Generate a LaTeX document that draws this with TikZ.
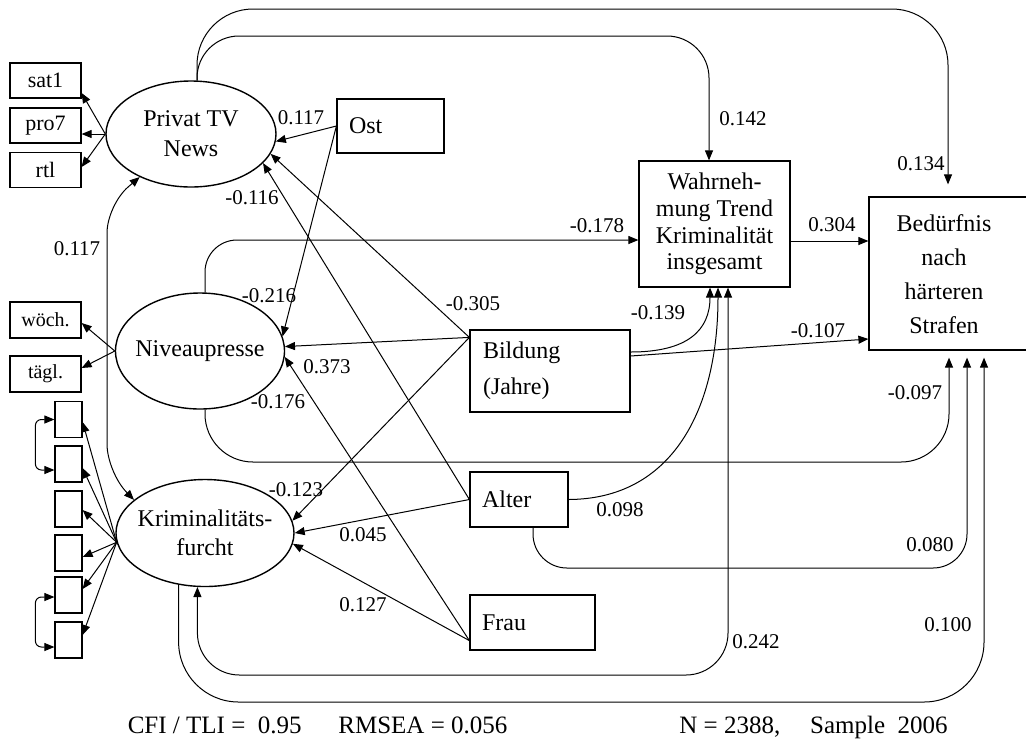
\documentclass[tikz,border=0pt]{standalone}
\usepackage{fontspec}
\setmainfont{Liberation Serif}
\usetikzlibrary{arrows.meta,shapes.geometric}

\begin{document}
\begin{tikzpicture}[x=0.5pt, y=-0.5pt,
    >={Triangle[length=5pt,width=4pt]},
    box/.style={draw, line width=0.6pt, inner sep=0pt, font=\fontsize{12}{15}\selectfont},
    ind/.style={draw, line width=0.6pt, minimum width=35.5pt, minimum height=17.5pt, inner sep=0pt, font=\fontsize{11}{13}\selectfont},
    latent/.style={draw, ellipse, line width=0.7pt, inner xsep=-20pt, inner ysep=0pt, align=center, font=\fontsize{12}{15}\selectfont},
    arr/.style={->, line width=0.5pt},
    dbl/.style={<->, line width=0.5pt},
    coef/.style={inner sep=0pt, font=\fontsize{10.5}{12}\selectfont},
    note/.style={inner sep=0pt, font=\fontsize{12.5}{15}\selectfont}
]
\useasboundingbox (0,0) rectangle (1026,740);

% indicators
\node[ind] (sat1) at (45.5,80.5) {sat1};
\node[ind] (pro7) at (45.5,125.5) {pro7};
\node[ind] (rtl) at (45.5,170) {rtl};
\node[ind, minimum height=18pt, font=\fontsize{10}{12}\selectfont] (woch) at (45.5,320) {wöch.};
\node[ind, minimum height=18pt, font=\fontsize{10}{12}\selectfont] (tagl) at (45.5,374) {tägl.};
\foreach \i/\y in {1/419.5,2/464,3/509,4/553,5/595,6/640}
    \node[ind, minimum width=13.5pt, minimum height=18pt] (k\i) at (68.5,\y) {};

% latent variables
\node[latent, minimum width=85pt, minimum height=53pt] (ptv) at (191,134) {Privat TV\\News};
\node[latent, minimum width=84.5pt, minimum height=58pt] (niv) at (200,351) {Niveaupresse};
\node[latent, minimum width=89pt, minimum height=53.5pt, font=\fontsize{12}{14.5}\selectfont] (krim) at (205,533) {Kriminalitäts-\\furcht};

% observed variables
\node[box, minimum width=53.5pt, minimum height=27pt, text width=41.5pt, inner xsep=6pt, align=left] (ost) at (390.5,126) {Ost};
\node[box, minimum width=80pt, minimum height=41pt, text width=67pt, inner xsep=6.5pt, align=left, font=\fontsize{12}{18}\selectfont] (bild) at (550,371) {Bildung\\(Jahre)};
\node[box, minimum width=49pt, minimum height=27.5pt, text width=37pt, inner xsep=6pt, align=left] (alter) at (519,499.5) {Alter};
\node[box, minimum width=62.5pt, minimum height=27.5pt, text width=50.5pt, inner xsep=6pt, align=left] (frau) at (532.5,622.5) {Frau};
\node[box, minimum width=75.5pt, minimum height=63pt, align=center, font=\fontsize{12}{13.3}\selectfont] (wahr) at (714.5,224) {Wahrneh-\\mung Trend\\Kriminalität\\insgesamt};
\node[box, minimum width=90pt, minimum height=76.5pt] (bed) at (959,273.5) {};
\node[align=center, inner sep=0pt, font=\fontsize{12}{17}\selectfont] (bedtxt) at (944,274) {Bedürfnis\\nach\\härteren\\Strafen};

% measurement model
\draw[arr] (ptv.west) -- ([yshift=-6.25pt]sat1.east);
\draw[arr] (ptv.west) -- ([yshift=-4.25pt]pro7.east);
\draw[arr] (ptv.west) -- ([yshift=1.5pt]rtl.east);
\draw[arr] (niv.west) -- ([yshift=-1.5pt]woch.east);
\draw[arr] (niv.west) -- ([yshift=3pt]tagl.east);
\foreach \i/\s in {1/-1.25,2/-2,3/-0.5,4/-2,5/3,6/2.5}
    \draw[arr] (krim.186) -- ([yshift=\s pt]k\i.east);
\draw[dbl, rounded corners=3pt] (k1.west) -- ++(-19,0) |- ([yshift=-3pt]k2.west);
\draw[dbl, rounded corners=3pt] ([yshift=-1pt]k5.west) -- ++(-19,0) |- ([yshift=-3.5pt]k6.west);

% anchor points
\coordinate (corA) at (107,205);
\coordinate (corB) at (107,472);
\coordinate (top1) at (0,9);
\coordinate (top2) at (0,36);
\coordinate (low1) at (0,462);
\coordinate (low2) at (0,568);
\coordinate (low3) at (0,675);
\coordinate (low4) at (0,702);
\coordinate (ptvtop) at ([xshift=3pt]ptv.north);
\coordinate (nivtop) at ([xshift=2.5pt]niv.north);
\coordinate (nivbot) at ([xshift=2.5pt]niv.south);
\coordinate (altbot) at ([xshift=7pt]alter.south);
\coordinate (bildnw) at ([yshift=-4pt]bild.north west);
\coordinate (bildE1) at ([yshift=9.5pt]bild.east);
\coordinate (bildE2) at ([yshift=7.5pt]bild.east);
\coordinate (frauw) at ([yshift=5pt]frau.south west);
\coordinate (wahtop) at ([xshift=-2.75pt]wahr.north);
\coordinate (wahW) at ([yshift=-8pt]wahr.west);
\coordinate (wahE) at ([yshift=-8.5pt]wahr.east);
\coordinate (wahB1) at ([xshift=-2.25pt]wahr.south);
\coordinate (wahB2) at ([xshift=1.75pt]wahr.south);
\coordinate (wahB3) at ([xshift=6.75pt]wahr.south);
\coordinate (bedtop) at ([xshift=-5.5pt,yshift=6pt]bed.north);
\coordinate (bedW1) at ([yshift=16.25pt]bed.west);
\coordinate (bedW2) at ([yshift=-32.75pt]bed.west);
\coordinate (bedB1) at ([xshift=-5pt,yshift=-3.5pt]bed.south);
\coordinate (bedB2) at ([xshift=4pt,yshift=-3.5pt]bed.south);
\coordinate (bedB3) at ([xshift=12.5pt,yshift=-3.5pt]bed.south);

% structural paths
\draw[dbl, rounded corners=14pt] (ptv.-140) -- (corA) -- (corB) -- (krim.155);
\draw[arr] (ost.west) -- (ptv.-5);
\draw[arr] (ost.west) -- (niv.10);
\draw[arr] (bildnw) -- (ptv.-14);
\draw[arr] (bildnw) -- (niv.3);
\draw[arr] (bildnw) -- (krim.8);
\draw[arr] (alter.west) -- (ptv.-22);
\draw[arr] (alter.west) -- (krim.0);
\draw[arr] (frauw) -- (niv.-4);
\draw[arr] (frauw) -- (krim.-7);

\draw[arr, rounded corners=28pt] (ptvtop) -- (ptvtop |- top1) -- (bedtop |- top1) -- (bedtop);
\draw[arr, rounded corners=21pt] (ptvtop) -- (ptvtop |- top2) -- (wahtop |- top2) -- (wahtop);
\draw[arr, rounded corners=16pt] (nivtop) -- (nivtop |- wahW) -- (wahW);
\draw[arr, rounded corners=24pt] (nivbot) -- (nivbot |- low1) -- (bedB1 |- low1) -- (bedB1);
\draw[arr] (bildE1) .. controls (688,352) and (710,330) .. (wahB1);
\draw[arr] (bildE2) -- (bedW2);
\draw[arr] (alter.east) .. controls (672,499) and (718,410) .. (wahB2);
\draw[arr, rounded corners=17pt] (altbot) -- (altbot |- low2) -- (bedB2 |- low2) -- (bedB2);
\draw[dbl, rounded corners=21pt] (krim.-98) -- (krim.-98 |- low3) -- (wahB3 |- low3) -- (wahB3);
\draw[arr, rounded corners=30pt] (krim.-117) -- (krim.-117 |- low4) -- (bedB3 |- low4) -- (bedB3);
\draw[arr] (wahE) -- (bedW1);

% coefficients
\foreach \n/\x/\y/\t in {ost1/301/118/0.117, alt1/252/198/-0.116, ost2/269/296/-0.216,
    bil1/473/304/-0.305, bil2/327/367/0.373, fra1/278/402/-0.176, bil3/296/490/-0.123,
    alt2/363/535/0.045, fra2/363/605/0.127, cor/77/249/0.117, ptv1/743/119/0.142,
    ptv2/921/164/0.134, niv1/597/226/-0.178, wah/832/225/0.304, bil4/658/313/-0.139,
    bil5/818/331/-0.107, niv2/915/393/-0.097, alt3/620/510/0.098, alt4/930/545/0.080,
    kri1/756/642/0.242, kri2/948/625/0.100}
    \node[coef] (c\n) at (\x,\y) {\t};

% fit
\node[note, anchor=base east] (fit) at (302,733) {CFI / TLI =\ \ 0.95};
\node[note, anchor=base west] (rmsea) at (338,733) {RMSEA = 0.056};
\node[note, anchor=base west] (nobs) at (679,733) {N = 2388,};
\node[note, anchor=base east] (smp) at (948,733) {Sample\ \ 2006};

\end{tikzpicture}
\end{document}
